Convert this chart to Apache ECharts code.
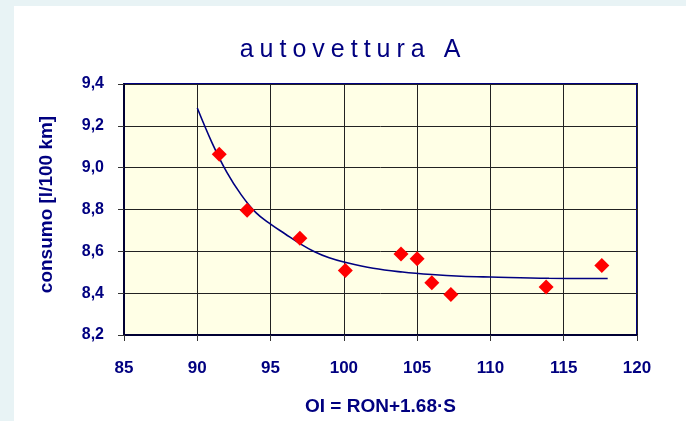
<!DOCTYPE html>
<html>
<head>
<meta charset="utf-8">
<title>autovettura A</title>
<script src="https://cdn.jsdelivr.net/npm/echarts@6/dist/echarts.min.js"></script>
<style>
    html, body { margin: 0; padding: 0; background: #e8f3f5; }
    .chart { width: 686px; height: 421px; }
</style>
</head>
<body>
<div class="chart"></div>
<script>
// punti misurati
var oiValues = [91.5, 93.4, 97.0, 100.1, 103.9, 105.0, 106.0, 107.3, 113.8, 117.6];
var consumoValues = [9.064, 8.796, 8.662, 8.508, 8.587, 8.565, 8.45, 8.394, 8.429, 8.532];
// linea di tendenza
var trendX = [90, 91, 92, 93, 94, 95, 96, 97, 98, 99, 100, 102, 104, 106, 108, 110, 114, 118];
var trendY = [9.285, 9.12, 8.98, 8.87, 8.785, 8.73, 8.683, 8.637, 8.598, 8.569, 8.549, 8.519, 8.501, 8.489, 8.481, 8.477, 8.471, 8.47];
// assi
var xTicks = [85, 90, 95, 100, 105, 110, 115, 120];
var yTicks = [8.2, 8.4, 8.6, 8.8, 9.0, 9.2, 9.4];
var titleText = "autovettura A";

(function () {
    var myChart = echarts.init(document.querySelector(".chart"));
    var navy = "#000080";

    var points = oiValues.map(function (x, i) { return [x, consumoValues[i]]; });
    var trend = trendX.map(function (x, i) { return [x, trendY[i]]; });

    // titolo spaziato: ogni lettera con un po' di padding
    var spaced = titleText.split("").map(function (c) { return "{s|" + c + "}"; }).join("");

    var option = {
        backgroundColor: "#e8f3f5",
        animation: false,
        // pannello bianco
        graphic: [{
            type: "rect",
            left: 14,
            top: 6,
            shape: { width: 672, height: 415 },
            style: { fill: "#ffffff" },
            z: -10
        }],
        title: {
            text: spaced,
            left: 345,
            textAlign: "center",
            top: 33,
            textStyle: {
                color: navy,
                fontFamily: "Liberation Sans",
                fontWeight: "normal",
                fontSize: 25,
                rich: {
                    s: {
                        color: navy,
                        fontFamily: "Liberation Sans",
                        fontSize: 25,
                        padding: [0, 3]
                    }
                }
            }
        },
        grid: {
            left: 124,
            top: 84,
            width: 513,
            height: 254,
            show: true,
            backgroundColor: "#ffffe6",
            borderColor: navy,
            borderWidth: 2
        },
        xAxis: {
            type: "value",
            min: xTicks[0],
            max: xTicks[xTicks.length - 1],
            interval: 5,
            name: "OI = RON+1.68·S",
            nameLocation: "middle",
            nameGap: 62,
            nameTextStyle: {
                color: navy,
                fontFamily: "Liberation Sans",
                fontWeight: "bold",
                fontSize: 19
            },
            axisLine: { lineStyle: { color: "#000033", width: 2 } },
            axisTick: { show: true, length: 6, lineStyle: { color: "#333" } },
            axisLabel: {
                color: navy,
                fontFamily: "Liberation Sans",
                fontWeight: "bold",
                fontSize: 17,
                margin: 25
            },
            splitLine: { show: true, lineStyle: { color: "#222", width: 1 } }
        },
        yAxis: {
            type: "value",
            min: yTicks[0],
            max: yTicks[yTicks.length - 1],
            interval: 0.2,
            name: "consumo [l/100 km]",
            nameLocation: "middle",
            nameRotate: 90,
            nameGap: 68,
            nameTextStyle: {
                color: navy,
                fontFamily: "Liberation Sans",
                fontWeight: "bold",
                fontSize: 19,
                padding: [0, 0, 0, 10]
            },
            axisLine: { show: true, lineStyle: { color: "#000033", width: 2 } },
            axisTick: { show: true, length: 6, lineStyle: { color: "#333" } },
            axisLabel: {
                color: navy,
                fontFamily: "Liberation Sans",
                fontWeight: "bold",
                fontSize: 16,
                margin: 20,
                formatter: function (v) { return v.toFixed(1).replace(".", ","); }
            },
            splitLine: { show: true, lineStyle: { color: "#222", width: 1 } }
        },
        series: [
            {
                name: "tendenza",
                type: "line",
                data: trend,
                smooth: 0.4,
                showSymbol: false,
                symbol: "none",
                lineStyle: { color: navy, width: 1.6 },
                z: 2
            },
            {
                name: "consumo",
                type: "scatter",
                data: points,
                symbol: "diamond",
                symbolSize: 15,
                itemStyle: { color: "#ff0000", opacity: 1 },
                z: 3
            }
        ]
    };
    myChart.setOption(option);
    window.addEventListener("resize", function () {
        myChart.resize();
    });
})();
</script>
</body>
</html>
